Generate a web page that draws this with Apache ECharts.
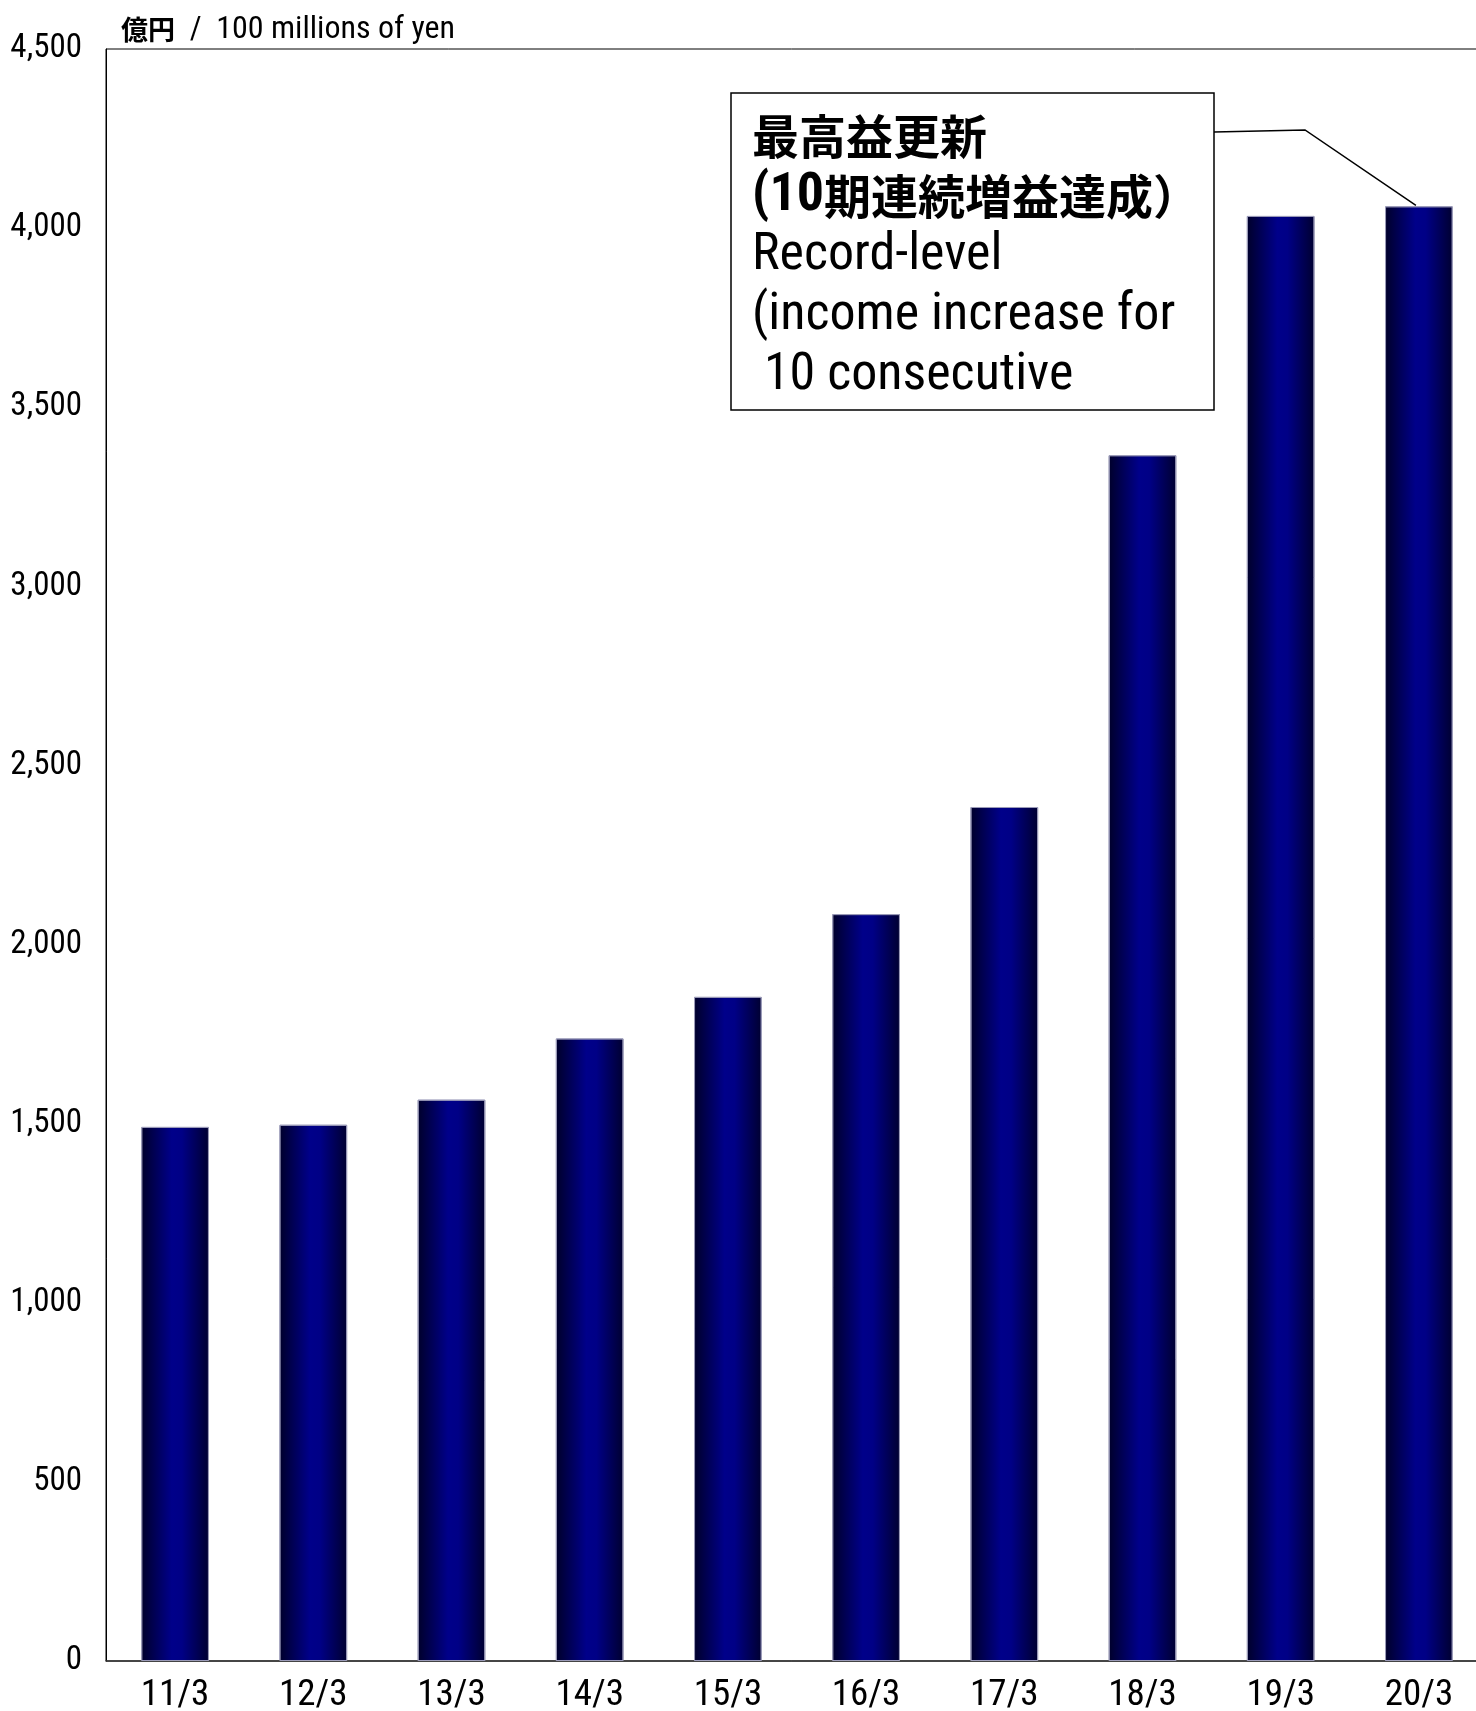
<!DOCTYPE html>
<html>
<head>
<meta charset="utf-8">
<script src="https://cdn.jsdelivr.net/npm/echarts@6/dist/echarts.min.js"></script>
<style>
  html, body { margin: 0; padding: 0; background: #fff; }
  #chart { width: 1476px; height: 1711px; }
</style>
</head>
<body>
<div id="chart"></div>
<script>
// 決算期 (fiscal year end)
const categories = ['11/3', '12/3', '13/3', '14/3', '15/3', '16/3', '17/3', '18/3', '19/3', '20/3'];
// 億円 / 100 millions of yen
const profit = [1491, 1497, 1567, 1738, 1854, 2085, 2384, 3366, 4034, 4061];
const yMin = 0;
const yMax = 4500;
const yStep = 500;

const latin = "'Roboto Condensed', 'Noto Sans CJK JP'";
const cjk = "'Noto Sans CJK JP'";

const chart = echarts.init(document.getElementById('chart'));

const barColor = {
  type: 'linear', x: 0, y: 0, x2: 1, y2: 0,
  colorStops: [
    { offset: 0, color: '#00002a' },
    { offset: 0.45, color: '#00008a' },
    { offset: 0.6, color: '#000086' },
    { offset: 1, color: '#000030' }
  ]
};

const option = {
  backgroundColor: '#fff',
  animation: false,
  title: {
    left: 116,
    top: 9,
    text: '{j|億円}{l|  /  100 millions of yen}',
    textStyle: {
      rich: {
        j: { fontFamily: cjk, fontSize: 27, fontWeight: 'bold', color: '#000' },
        l: { fontFamily: latin, fontSize: 32, fontWeight: 'normal', color: '#000' }
      }
    }
  },
  grid: {
    left: 106,
    width: 1382,
    top: 49,
    bottom: 50,
    outerBoundsMode: 'none',
    show: true,
    borderColor: '#000',
    borderWidth: 1,
    backgroundColor: 'transparent'
  },
  xAxis: {
    type: 'category',
    data: categories,
    axisLine: { lineStyle: { color: '#333', width: 1.5 } },
    axisTick: { inside: true, length: 10, lineStyle: { color: '#555' } },
    axisLabel: { fontFamily: latin, fontSize: 37, color: '#000', margin: 16 },
    splitLine: { show: false }
  },
  yAxis: {
    type: 'value',
    min: yMin,
    max: yMax,
    interval: yStep,
    axisLine: { show: true, lineStyle: { color: '#000' } },
    axisTick: { show: false },
    splitLine: { show: false },
    axisLabel: {
      fontFamily: latin,
      fontSize: 33,
      color: '#000',
      margin: 24,
      padding: [6, 0, 0, 0],
      formatter: v => v.toLocaleString('en-US')
    }
  },
  series: [{
    type: 'bar',
    data: profit,
    barWidth: '49%',
    itemStyle: {
      color: barColor,
      borderColor: '#9a9ab8',
      borderWidth: 1
    }
  }],
  graphic: [
    {
      id: 'note-box',
      type: 'rect',
      shape: { x: 731, y: 93, width: 483, height: 317 },
      style: { fill: '#fff', stroke: '#000', lineWidth: 1.5 },
      z: 100
    },
    {
      id: 'note-text',
      type: 'text',
      x: 752,
      y: 106,
      z: 101,
      style: {
        text: '{c|最高益更新}\n{n|(10}{c|期連続増益達成）}\n{r|Record-level}\n{r|(income increase for}\n{r| 10 consecutive}',
        verticalAlign: 'top',
        fill: '#000',
        rich: {
          c: { fontFamily: cjk, fontSize: 47, fontWeight: 'bold', lineHeight: 60, fill: '#000' },
          n: { fontFamily: latin, fontSize: 54, fontWeight: 'bold', lineHeight: 60, fill: '#000' },
          r: { fontFamily: latin, fontSize: 52, lineHeight: 60, fill: '#000' }
        }
      }
    }
  ]
};

chart.setOption(option);

// leader line from the note box to the top of the last bar
const last = categories.length - 1;
const tip = chart.convertToPixel({ seriesIndex: 0 }, [last, profit[last]]);
chart.setOption({
  graphic: [{
    id: 'note-leader',
    type: 'polyline',
    z: 99,
    shape: { points: [[1214, 132], [1305, 130], [tip[0] - 3, tip[1] - 1]] },
    style: { stroke: '#000', lineWidth: 1.5, fill: null }
  }]
});
</script>
</body>
</html>
